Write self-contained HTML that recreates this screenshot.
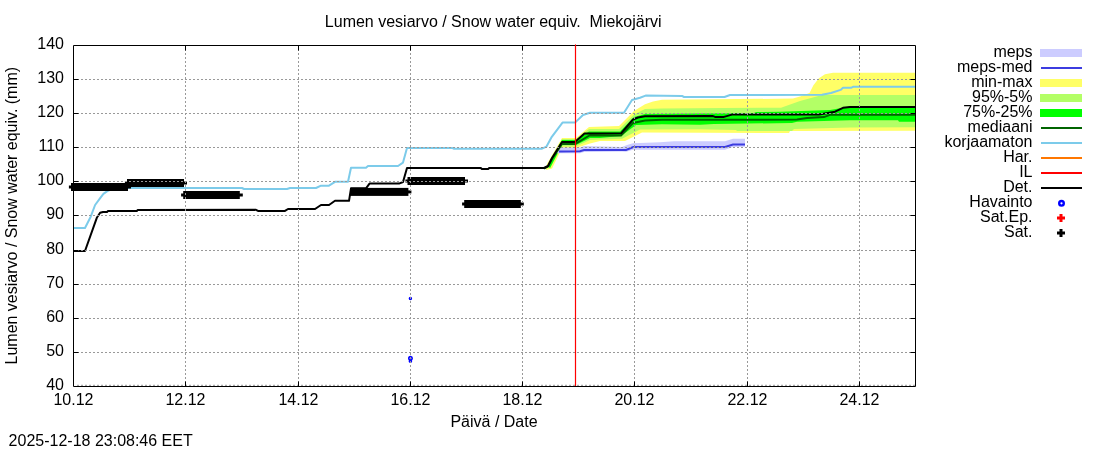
<!DOCTYPE html><html><head><meta charset="utf-8"><style>html,body{margin:0;padding:0;background:#fff;overflow:hidden}svg{display:block;will-change:transform}</style></head><body><svg width="1100" height="450" viewBox="0 0 1100 450">
<rect width="1100" height="450" fill="#fff"/>
<polygon fill="#ffff66" points="547.0,164.0 562.0,138.0 576.0,138.0 589.0,127.0 619.0,126.0 634.0,111.0 645.0,104.2 653.0,101.4 662.0,99.8 793.0,98.6 800.0,96.5 809.5,93.0 813.4,85.2 818.9,78.2 825.0,74.3 833.0,72.8 915.5,72.8 915.5,130.8 790.0,130.9 789.0,133.0 642.0,132.6 625.0,141.0 600.0,141.0 590.0,143.5 576.0,148.0 562.0,148.0 552.0,168.5 546.0,170.0"/>
<polygon fill="#b3ff66" points="548.0,165.0 562.0,139.0 576.0,139.0 589.0,129.0 619.0,129.0 634.0,114.5 645.0,109.0 662.0,108.5 722.0,108.0 781.0,107.8 800.0,101.0 822.0,95.0 915.5,94.9 915.5,127.2 850.0,127.5 794.0,128.9 792.0,130.9 737.0,130.9 736.0,130.0 700.0,129.3 640.0,129.4 622.0,138.7 600.0,139.5 590.0,140.0 576.0,146.5 562.0,146.5 550.0,168.5"/>
<polygon fill="#00ff00" points="548.0,166.0 562.0,140.0 576.0,140.0 589.0,131.5 620.0,131.5 634.0,117.0 645.0,114.0 754.0,113.0 756.0,112.0 780.0,111.7 830.0,110.1 850.0,106.5 915.5,107.0 915.5,121.8 899.0,121.8 898.0,120.2 850.0,120.2 797.0,121.8 792.0,123.0 714.0,124.0 700.0,124.7 662.0,124.2 636.0,125.0 621.0,136.0 600.0,138.0 590.0,138.0 576.0,145.0 562.0,145.0 550.0,168.0"/>
<polygon fill="#ccccff" points="557.0,152.0 560.0,147.5 580.0,147.5 584.0,146.0 622.0,147.0 627.0,145.0 633.0,143.3 660.0,142.3 674.0,141.3 725.0,141.3 733.0,138.8 745.0,138.8 745.0,146.7 733.0,147.0 725.0,149.7 633.0,149.7 626.0,151.7 622.0,151.6 584.0,152.0 580.0,153.2 562.0,153.2 557.0,153.2"/>
<polyline fill="none" stroke="#3c3ce0" stroke-width="2" points="559.0,151.5 580.0,151.3 584.0,150.0 626.0,150.0 633.3,147.0 725.0,147.0 733.0,144.6 745.0,144.4"/>
<polyline fill="none" stroke="#7ccbea" stroke-width="2" stroke-linejoin="round" points="73.5,228.0 85.0,228.0 90.7,216.7 95.1,205.0 99.6,198.9 103.4,193.9 107.3,191.1 112.0,189.0 128.0,188.0 242.0,188.0 244.0,189.0 287.0,189.0 290.0,188.0 316.0,188.0 321.0,185.7 329.0,185.7 335.0,181.8 348.0,181.8 351.0,167.8 366.0,167.8 368.0,166.0 398.0,166.0 403.0,162.6 407.0,147.9 452.0,147.9 454.0,148.7 542.0,148.7 546.5,146.6 551.8,136.8 562.5,122.6 575.0,122.6 583.0,115.0 590.0,112.8 624.0,112.8 632.0,100.0 640.0,97.8 645.6,95.6 682.0,95.9 684.0,97.0 724.5,97.0 730.0,95.0 822.0,94.7 831.0,93.0 840.6,89.9 843.0,87.8 851.0,87.8 853.0,86.8 915.5,86.8"/>
<polyline fill="none" stroke="#006400" stroke-width="2" points="544.0,168.5 548.0,166.5 552.0,159.0 562.0,144.0 575.0,144.0 590.0,135.2 621.0,135.5 633.0,123.0 645.0,120.5 662.0,119.8 797.0,119.6 807.0,117.9 824.0,117.1 830.0,114.8 915.5,114.8"/>
<polyline fill="none" stroke="#000" stroke-width="2" stroke-linejoin="round" points="73.5,251.0 85.0,251.0 96.8,217.8 100.1,212.8 103.0,212.0 107.0,212.0 108.0,211.0 137.0,211.0 137.6,210.0 256.0,209.8 258.0,210.9 285.0,210.9 288.0,209.0 315.0,209.0 321.0,205.0 329.0,205.0 335.0,200.8 349.0,200.8 351.0,188.3 366.0,188.3 369.5,183.6 399.0,183.6 403.0,182.0 407.0,168.0 481.0,168.0 481.6,168.9 488.4,168.9 489.0,168.0 544.0,168.0 548.0,166.0 552.0,158.0 562.0,142.0 575.0,142.0 584.5,133.5 621.0,133.3 633.0,119.5 638.0,117.5 645.0,116.3 713.0,116.1 715.0,116.9 724.0,116.9 732.0,114.6 819.0,114.6 825.0,113.5 835.0,111.7 843.0,107.8 850.0,107.0 915.5,107.0"/>
<rect x="68.9" y="185.5" width="62.1" height="3" fill="#000"/><rect x="71.0" y="183.0" width="57.0" height="8" fill="#000"/>
<rect x="124.9" y="181.5" width="62.1" height="3" fill="#000"/><rect x="127.0" y="179.0" width="57.0" height="8" fill="#000"/>
<rect x="181.1" y="193.5" width="61.7" height="3" fill="#000"/><rect x="183.2" y="191.0" width="56.6" height="8" fill="#000"/>
<rect x="350.0" y="190.4" width="61.4" height="3" fill="#000"/><rect x="350.0" y="187.9" width="58.4" height="8" fill="#000"/>
<rect x="405.4" y="179.5" width="62.6" height="3" fill="#000"/><rect x="407.5" y="177.0" width="57.5" height="8" fill="#000"/>
<rect x="462.1" y="202.5" width="61.7" height="3" fill="#000"/><rect x="464.2" y="200.0" width="56.6" height="8" fill="#000"/>
<circle cx="410.4" cy="298.4" r="1.1" fill="none" stroke="#0000ff" stroke-width="1.3"/>
<circle cx="410.5" cy="358.3" r="1.7" fill="none" stroke="#0000ff" stroke-width="1.6"/>
<circle cx="410.4" cy="361.2" r="1.1" fill="none" stroke="#0000ff" stroke-width="1.4"/>
<path d="M73,79.5H915 M73,113.5H915 M73,147.5H915 M73,181.5H915 M73,215.5H915 M73,250.5H915 M73,284.5H915 M73,318.5H915 M73,352.5H915 M185.5,45V386 M298.5,45V386 M410.5,45V386 M522.5,45V386 M634.5,45V386 M747.5,45V386 M859.5,45V386 M77,385.3H915" stroke="#999" stroke-width="1" stroke-dasharray="2,2" fill="none"/>
<path d="M73.5,45.5H915.5V386.5H73.5Z M73.5,79.5h5M915.5,79.5h-5 M73.5,113.5h5M915.5,113.5h-5 M73.5,147.5h5M915.5,147.5h-5 M73.5,181.5h5M915.5,181.5h-5 M73.5,215.5h5M915.5,215.5h-5 M73.5,250.5h5M915.5,250.5h-5 M73.5,284.5h5M915.5,284.5h-5 M73.5,318.5h5M915.5,318.5h-5 M73.5,352.5h5M915.5,352.5h-5 M185.5,386.5v-5M185.5,45.5v5 M298.5,386.5v-5M298.5,45.5v5 M410.5,386.5v-5M410.5,45.5v5 M522.5,386.5v-5M522.5,45.5v5 M634.5,386.5v-5M634.5,45.5v5 M747.5,386.5v-5M747.5,45.5v5 M859.5,386.5v-5M859.5,45.5v5" stroke="#000" stroke-width="1" fill="none"/>
<path d="M575.5,44.9V385.5" stroke="#ff0000" stroke-width="1.2" stroke-linecap="round" fill="none"/>
<text x="493.2" y="27" text-anchor="middle" font-family="Liberation Sans, sans-serif" font-size="16" fill="#000" xml:space="preserve">Lumen vesiarvo / Snow water equiv.  Miekojärvi</text>
<text x="64" y="49.0" text-anchor="end" font-family="Liberation Sans, sans-serif" font-size="16" fill="#000">140</text>
<text x="64" y="83.0" text-anchor="end" font-family="Liberation Sans, sans-serif" font-size="16" fill="#000">130</text>
<text x="64" y="117.0" text-anchor="end" font-family="Liberation Sans, sans-serif" font-size="16" fill="#000">120</text>
<text x="64" y="151.0" text-anchor="end" font-family="Liberation Sans, sans-serif" font-size="16" fill="#000">110</text>
<text x="64" y="185.0" text-anchor="end" font-family="Liberation Sans, sans-serif" font-size="16" fill="#000">100</text>
<text x="64" y="219.0" text-anchor="end" font-family="Liberation Sans, sans-serif" font-size="16" fill="#000">90</text>
<text x="64" y="254.0" text-anchor="end" font-family="Liberation Sans, sans-serif" font-size="16" fill="#000">80</text>
<text x="64" y="288.0" text-anchor="end" font-family="Liberation Sans, sans-serif" font-size="16" fill="#000">70</text>
<text x="64" y="322.0" text-anchor="end" font-family="Liberation Sans, sans-serif" font-size="16" fill="#000">60</text>
<text x="64" y="356.0" text-anchor="end" font-family="Liberation Sans, sans-serif" font-size="16" fill="#000">50</text>
<text x="64" y="390.0" text-anchor="end" font-family="Liberation Sans, sans-serif" font-size="16" fill="#000">40</text>
<text x="73.5" y="405" text-anchor="middle" font-family="Liberation Sans, sans-serif" font-size="16" fill="#000">10.12</text>
<text x="185.5" y="405" text-anchor="middle" font-family="Liberation Sans, sans-serif" font-size="16" fill="#000">12.12</text>
<text x="298.5" y="405" text-anchor="middle" font-family="Liberation Sans, sans-serif" font-size="16" fill="#000">14.12</text>
<text x="410.5" y="405" text-anchor="middle" font-family="Liberation Sans, sans-serif" font-size="16" fill="#000">16.12</text>
<text x="522.5" y="405" text-anchor="middle" font-family="Liberation Sans, sans-serif" font-size="16" fill="#000">18.12</text>
<text x="634.5" y="405" text-anchor="middle" font-family="Liberation Sans, sans-serif" font-size="16" fill="#000">20.12</text>
<text x="747.5" y="405" text-anchor="middle" font-family="Liberation Sans, sans-serif" font-size="16" fill="#000">22.12</text>
<text x="859.5" y="405" text-anchor="middle" font-family="Liberation Sans, sans-serif" font-size="16" fill="#000">24.12</text>
<text x="494" y="427" text-anchor="middle" font-family="Liberation Sans, sans-serif" font-size="16" fill="#000">Päivä / Date</text>
<text transform="translate(17,215.7) rotate(-90)" x="0" y="0" text-anchor="middle" font-family="Liberation Sans, sans-serif" font-size="16" fill="#000">Lumen vesiarvo / Snow water equiv. (mm)</text>
<text x="8.6" y="446" font-family="Liberation Sans, sans-serif" font-size="16" fill="#000">2025-12-18 23:08:46 EET</text>
<text x="1032.5" y="56.7" text-anchor="end" font-family="Liberation Sans, sans-serif" font-size="16" fill="#000">meps</text>
<text x="1032.5" y="71.7" text-anchor="end" font-family="Liberation Sans, sans-serif" font-size="16" fill="#000">meps-med</text>
<text x="1032.5" y="86.7" text-anchor="end" font-family="Liberation Sans, sans-serif" font-size="16" fill="#000">min-max</text>
<text x="1032.5" y="101.7" text-anchor="end" font-family="Liberation Sans, sans-serif" font-size="16" fill="#000">95%-5%</text>
<text x="1032.5" y="116.7" text-anchor="end" font-family="Liberation Sans, sans-serif" font-size="16" fill="#000">75%-25%</text>
<text x="1032.5" y="131.7" text-anchor="end" font-family="Liberation Sans, sans-serif" font-size="16" fill="#000">mediaani</text>
<text x="1032.5" y="146.7" text-anchor="end" font-family="Liberation Sans, sans-serif" font-size="16" fill="#000">korjaamaton</text>
<text x="1032.5" y="161.7" text-anchor="end" font-family="Liberation Sans, sans-serif" font-size="16" fill="#000">Har.</text>
<text x="1032.5" y="176.7" text-anchor="end" font-family="Liberation Sans, sans-serif" font-size="16" fill="#000">IL</text>
<text x="1032.5" y="191.7" text-anchor="end" font-family="Liberation Sans, sans-serif" font-size="16" fill="#000">Det.</text>
<text x="1032.5" y="206.7" text-anchor="end" font-family="Liberation Sans, sans-serif" font-size="16" fill="#000">Havainto</text>
<text x="1032.5" y="221.7" text-anchor="end" font-family="Liberation Sans, sans-serif" font-size="16" fill="#000">Sat.Ep.</text>
<text x="1032.5" y="236.7" text-anchor="end" font-family="Liberation Sans, sans-serif" font-size="16" fill="#000">Sat.</text>
<rect x="1040" y="49" width="42" height="8" fill="#ccccff"/>
<rect x="1041" y="67.0" width="41" height="2" fill="#3c3ce0"/>
<rect x="1040" y="79" width="42" height="8" fill="#ffff66"/>
<rect x="1040" y="94" width="42" height="8" fill="#b3ff66"/>
<rect x="1040" y="109" width="42" height="8" fill="#00ff00"/>
<rect x="1041" y="127.0" width="41" height="2" fill="#006400"/>
<rect x="1041" y="142.0" width="41" height="2" fill="#7ccbea"/>
<rect x="1041" y="157.0" width="41" height="2" fill="#ff7700"/>
<rect x="1041" y="172.0" width="41" height="2" fill="#ff0000"/>
<rect x="1041" y="187.0" width="41" height="2" fill="#000"/>
<circle cx="1061.5" cy="203.3" r="2.3" fill="none" stroke="#0000ff" stroke-width="2.4"/>
<rect x="1057" y="216.5" width="8" height="3" fill="#ff0000"/><rect x="1059.5" y="214" width="3" height="8" fill="#ff0000"/>
<rect x="1057" y="231.5" width="8" height="3" fill="#000"/><rect x="1059.5" y="229" width="3" height="8" fill="#000"/>
</svg></body></html>
